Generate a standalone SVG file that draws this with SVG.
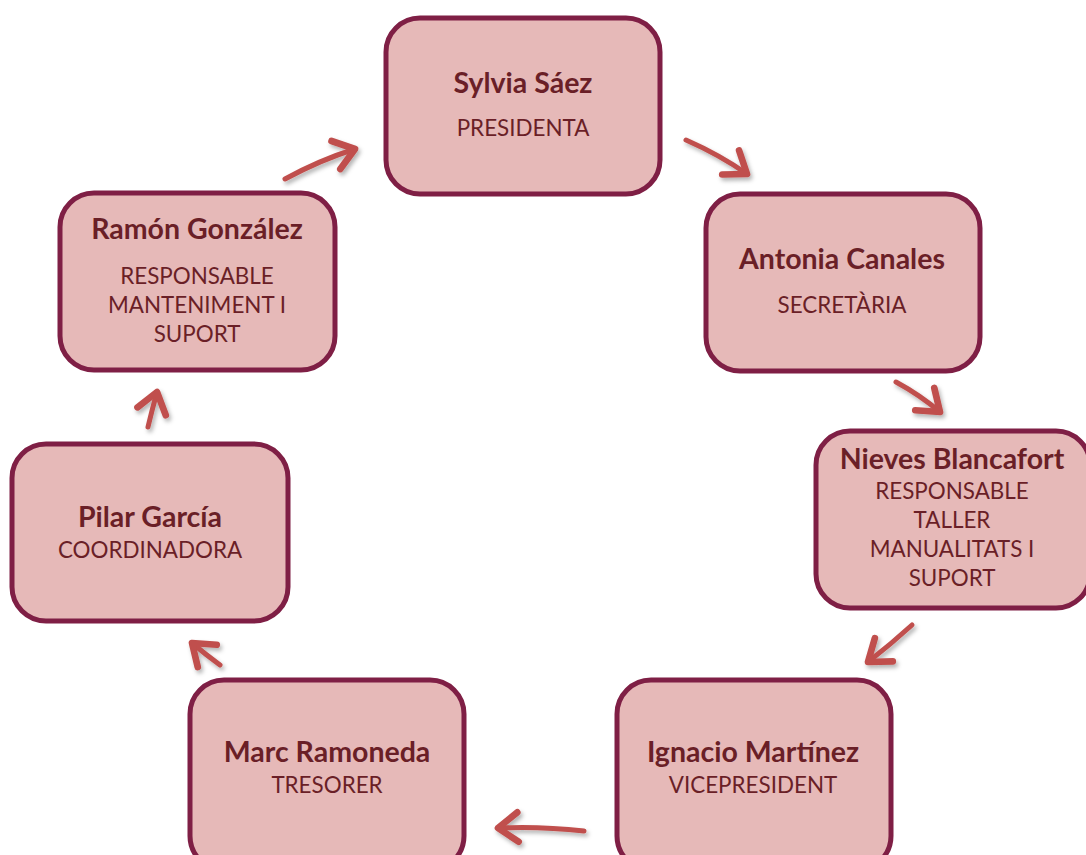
<svg xmlns="http://www.w3.org/2000/svg" width="1086" height="855" viewBox="0 0 1086 855">
<defs>
<style>
.box{fill:#E6B9B8;stroke:#7F1F45;stroke-width:5}
.t{font-family:Lato,"Open Sans","Liberation Sans",sans-serif;fill:#6A1F27;text-anchor:middle}
.n{font-size:28.5px;font-weight:bold}
.r{font-size:22.4px}
.arr{fill:none;stroke:#C0504D;stroke-width:5;stroke-linecap:round}
</style>
<filter id="sh" filterUnits="userSpaceOnUse" x="0" y="0" width="1086" height="855">
<feDropShadow dx="2" dy="3" stdDeviation="2" flood-color="#000" flood-opacity="0.3"/>
</filter>
<marker id="ah" markerUnits="userSpaceOnUse" markerWidth="40" markerHeight="40" refX="0" refY="0" viewBox="-20 -15 25 30" orient="auto">
<path d="M-15,-11 L0,0 L-15,11" fill="none" stroke="#C0504D" stroke-width="5" stroke-linecap="round" stroke-linejoin="round"/>
</marker>
</defs>
<g id="connectors" filter="url(#sh)">
<path class="arr" d="M285,179 Q320,160 355,149" marker-end="url(#ah)"/>
<path class="arr" d="M686,140 Q720,155 747,174" marker-end="url(#ah)"/>
<path class="arr" d="M896,382 Q920,395 940,412" marker-end="url(#ah)"/>
<path class="arr" d="M912,625 Q890,645 868,662" marker-end="url(#ah)"/>
<path class="arr" d="M584,831 Q540,826 498,828" marker-end="url(#ah)"/>
<path class="arr" d="M220,665 Q205,654 192,643" marker-end="url(#ah)"/>
<path class="arr" d="M148,427 Q152,410 157,392" marker-end="url(#ah)"/>
</g>
<g id="sylvia">
<rect class="box" x="386" y="18" width="274" height="176" rx="34"/>
<text class="t n" x="523" y="93">Sylvia Sáez</text>
<text class="t r" x="523" y="136">PRESIDENTA</text>
</g>
<g id="antonia">
<rect class="box" x="706" y="194" width="274" height="177" rx="34"/>
<text class="t n" x="842" y="269">Antonia Canales</text>
<text class="t r" x="842" y="313">SECRETÀRIA</text>
</g>
<g id="nieves">
<rect class="box" x="816" y="431" width="274" height="177" rx="34"/>
<text class="t n" x="952" y="469">Nieves Blancafort</text>
<text class="t r" x="952" y="499">RESPONSABLE</text>
<text class="t r" x="952" y="528">TALLER</text>
<text class="t r" x="952" y="557">MANUALITATS I</text>
<text class="t r" x="952" y="586">SUPORT</text>
</g>
<g id="ignacio">
<rect class="box" x="617" y="680" width="274" height="190" rx="34"/>
<text class="t n" x="753" y="762">Ignacio Martínez</text>
<text class="t r" x="753" y="793">VICEPRESIDENT</text>
</g>
<g id="marc">
<rect class="box" x="190" y="680" width="274" height="190" rx="34"/>
<text class="t n" x="327" y="762">Marc Ramoneda</text>
<text class="t r" x="327" y="793">TRESORER</text>
</g>
<g id="pilar">
<rect class="box" x="12" y="444" width="276" height="177" rx="34"/>
<text class="t n" x="150" y="527">Pilar García</text>
<text class="t r" x="150" y="558">COORDINADORA</text>
</g>
<g id="ramon">
<rect class="box" x="60" y="193" width="275" height="177" rx="34"/>
<text class="t n" x="197" y="239">Ramón González</text>
<text class="t r" x="197" y="284">RESPONSABLE</text>
<text class="t r" x="197" y="313">MANTENIMENT I</text>
<text class="t r" x="197" y="342">SUPORT</text>
</g>
</svg>
